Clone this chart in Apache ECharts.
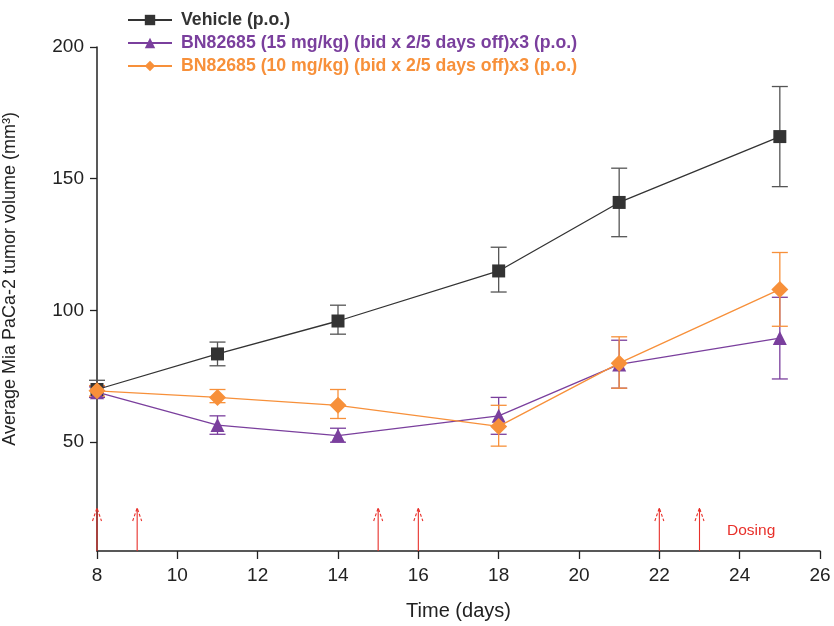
<!DOCTYPE html>
<html><head><meta charset="utf-8">
<script src="https://cdn.jsdelivr.net/npm/echarts@6/dist/echarts.min.js"></script>
<style>html,body{margin:0;padding:0;background:#fff}#c{width:834px;height:626px}</style>
</head><body><div id="c"></div>
<script>
const days = [8, 11, 14, 18, 21, 25];
const vehicleMean = [70, 83.5, 96, 115, 141, 166];
const vehicleHi   = [73.5, 88, 102, 124, 154, 185];
const vehicleLo   = [67, 79, 91, 107, 128, 147];
const bn15Mean = [69, 56.5, 52.5, 60, 79.5, 89.5];
const bn15Hi   = [71, 60, 55.3, 67, 88.7, 105];
const bn15Lo   = [67, 53, 50, 53, 70.5, 74];
const bn10Mean = [69.5, 67, 64, 56, 80, 108];
const bn10Hi   = [71.5, 70, 70, 64, 90, 122];
const bn10Lo   = [67.5, 65, 59, 48.5, 70.5, 94];
const dosingDays = [8, 9, 15, 16, 22, 23];
const yTicks = [50, 100, 150, 200];
const names = ['Vehicle (p.o.)', 'BN82685 (15 mg/kg) (bid x 2/5 days off)x3 (p.o.)', 'BN82685 (10 mg/kg) (bid x 2/5 days off)x3 (p.o.)'];
const colors = ['#333333', '#7a3f9d', '#f7903a'];
const errColors = ['#555555', '#7a3f9d', '#f7903a'];
const Y_MIN = 8.7;
const FONT = 'Liberation Sans, Arial, sans-serif';

function lineData(mean) { return days.map((d, i) => [d, mean[i]]); }
function errData(lo, hi) { return days.map((d, i) => [d, lo[i], hi[i]]); }

function errSeries(lo, hi, color, z) {
  return {
    type: 'custom', z: z, silent: true,
    data: errData(lo, hi),
    encode: { x: 0, y: [1, 2] },
    renderItem: function (params, api) {
      const x = api.value(0);
      const a = api.coord([x, api.value(1)]);
      const b = api.coord([x, api.value(2)]);
      const w = 8;
      const st = { stroke: color, lineWidth: 1.3, fill: null };
      return { type: 'group', children: [
        { type: 'line', shape: { x1: a[0], y1: a[1], x2: b[0], y2: b[1] }, style: st },
        { type: 'line', shape: { x1: a[0] - w, y1: a[1], x2: a[0] + w, y2: a[1] }, style: st },
        { type: 'line', shape: { x1: b[0] - w, y1: b[1], x2: b[0] + w, y2: b[1] }, style: st }
      ]};
    }
  };
}

const chart = echarts.init(document.getElementById('c'), null, { renderer: 'canvas' });
chart.setOption({
  animation: false,
  backgroundColor: '#fff',
  grid: { left: 97, right: 14, top: 47, bottom: 72 },
  legend: {
    orient: 'vertical', left: 122, top: 6, itemGap: 5,
    itemWidth: 44, itemHeight: 13,
    data: [
      { name: names[0], textStyle: { color: '#333' } },
      { name: names[1], textStyle: { color: colors[1] } },
      { name: names[2], textStyle: { color: colors[2] } }
    ],
    textStyle: { fontFamily: FONT, fontSize: 17.7, fontWeight: 'bold', padding: [0, 0, 0, 4] }
  },
  xAxis: {
    type: 'value', min: 8, max: 26, interval: 2,
    name: 'Time (days)', nameLocation: 'middle', nameGap: 50,
    nameTextStyle: { fontFamily: FONT, fontSize: 20, color: '#222' },
    axisLine: { lineStyle: { color: '#222', width: 1.5 } },
    axisTick: { show: true, length: 8, lineStyle: { color: '#222', width: 1.3 } },
    axisLabel: { fontFamily: FONT, fontSize: 19, color: '#222', margin: 15 },
    splitLine: { show: false }
  },
  yAxis: {
    type: 'value', min: Y_MIN, max: 200,
    axisLine: { show: true, lineStyle: { color: '#222', width: 1.5 } },
    axisTick: { show: true, length: 7, customValues: yTicks, lineStyle: { color: '#222', width: 1.3 } },
    axisLabel: { customValues: yTicks, fontFamily: FONT, fontSize: 19, color: '#222', margin: 13 },
    splitLine: { show: false }
  },
  graphic: [
    { type: 'text', left: 1, top: 112, rotation: Math.PI / 2, z: 10,
      style: { text: 'Average Mia PaCa-2 tumor volume (mm³)', fontFamily: FONT, fontSize: 18, fill: '#222' } },
    { type: 'text', left: 727, top: 523, z: 10,
      style: { text: 'Dosing', fontFamily: FONT, fontSize: 15.5, fill: '#e8302a' } }
  ],
  series: [
    errSeries(vehicleLo, vehicleHi, errColors[0], 2),
    errSeries(bn15Lo, bn15Hi, errColors[1], 3),
    errSeries(bn10Lo, bn10Hi, errColors[2], 4),
    { name: names[0], type: 'line', z: 5, data: lineData(vehicleMean), symbol: 'rect', symbolSize: 13,
      itemStyle: { color: colors[0] }, lineStyle: { color: colors[0], width: 1.3 } },
    { name: names[1], type: 'line', z: 6, data: lineData(bn15Mean), symbol: 'triangle', symbolSize: 14,
      itemStyle: { color: colors[1] }, lineStyle: { color: colors[1], width: 1.3 } },
    { name: names[2], type: 'line', z: 7, data: lineData(bn10Mean), symbol: 'diamond', symbolSize: 17,
      itemStyle: { color: colors[2] }, lineStyle: { color: colors[2], width: 1.3 } },
    { type: 'custom', z: 8, silent: true,
      data: dosingDays.map(d => [d, Y_MIN]),
      encode: { x: 0, y: 1 },
      renderItem: function (params, api) {
        const p = api.coord([api.value(0), api.value(1)]);
        const top = p[1] - 43;
        const st = { stroke: '#e8302a', lineWidth: 1.1, fill: null };
        return { type: 'group', children: [
          { type: 'line', shape: { x1: p[0], y1: p[1], x2: p[0], y2: top }, style: st },
          { type: 'polyline', shape: { points: [[p[0] - 4.5, top + 13], [p[0], top], [p[0] + 4.5, top + 13]] }, style: Object.assign({ lineDash: [3, 2] }, st) }
        ]};
      }
    }
  ]
});
</script></body></html>
